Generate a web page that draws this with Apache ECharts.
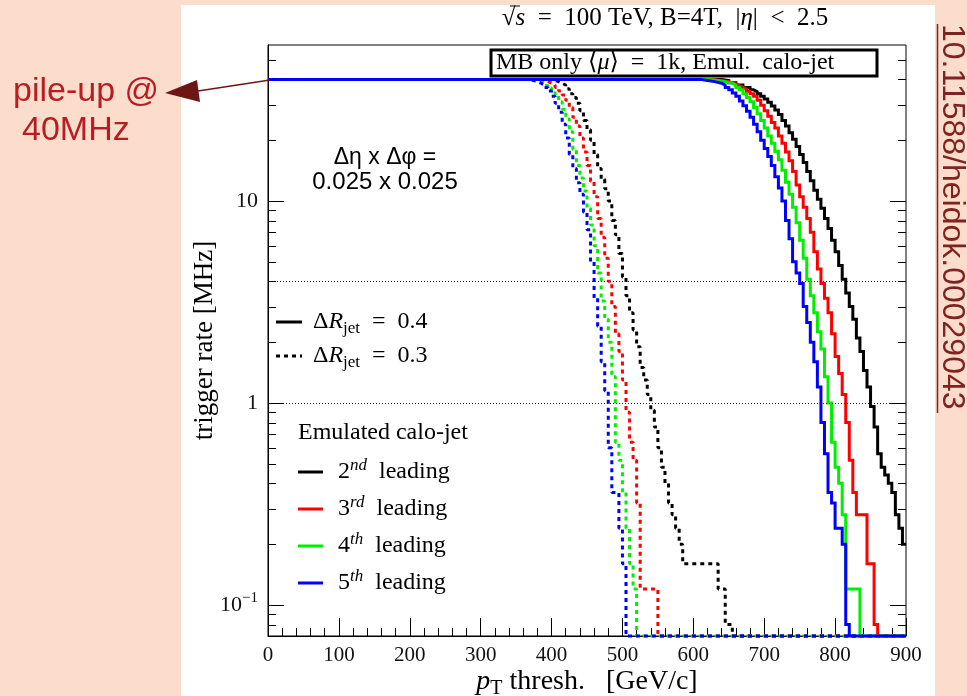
<!DOCTYPE html>
<html><head><meta charset="utf-8">
<script src="https://cdn.jsdelivr.net/npm/echarts@6/dist/echarts.min.js"></script>
<style>html,body{margin:0;padding:0;background:#FCDDCB}#c{width:967px;height:696px}</style>
</head><body><div id="c"></div>
<script>
// ---- data: step histograms [pT lower bin edge (GeV/c), trigger rate (MHz)]; 0 = no events left ----
const pT_range = [0, 900];
const pT_ticks = [0, 100, 200, 300, 400, 500, 600, 700, 800, 900];
const yTickLabels = [0.1, 1, 10];
const refLines = [4, 1];

// Delta R_jet = 0.4 (solid)
const solid_2nd = [[0,40],[640,39.5],[650,38.5],[660,37.5],[670,36.5],[680,35.5],[685,34.8],[690,34],[695,33],[700,32],[705,30.8],[710,29.5],[715,28.2],[720,26.8],[725,25],[730,23.5],[735,21.8],[740,20.2],[745,18.6],[750,17],[755,15.5],[760,14],[765,12.6],[770,11.3],[775,10.2],[780,9.2],[785,8.2],[790,7.3],[795,6.4],[800,5.6],[805,4.8],[810,4.1],[815,3.5],[820,3.0],[825,2.6],[830,2.1],[835,1.8],[840,1.45],[845,1.2],[850,0.96],[855,0.76],[860,0.56],[865,0.48],[870,0.44],[875,0.40],[880,0.36],[885,0.28],[890,0.24],[895,0.20]];
const solid_3rd = [[0,40],[625,39.5],[640,39],[650,38.5],[655,38],[660,37.3],[665,36.5],[670,35.7],[675,34.8],[680,34],[685,33],[690,31.5],[695,29.8],[700,28],[705,26.3],[710,24.5],[715,23],[720,21],[725,19.3],[730,17.5],[735,15.8],[740,14],[745,12],[750,10.5],[755,9.3],[760,8.2],[765,7.0],[770,5.6],[775,4.6],[780,3.9],[785,3.3],[790,2.8],[795,2.2],[800,1.7],[805,1.4],[810,1.1],[815,0.8],[820,0.52],[825,0.36],[830,0.28],[845,0.16],[855,0.08],[860,0]];
const solid_4th = [[0,40],[620,39.5],[635,39],[645,38.3],[655,37.5],[660,36.5],[665,35.5],[670,34],[675,32.5],[680,31],[685,29],[690,27],[695,25],[700,23],[705,21],[710,19.3],[715,17.6],[720,16],[725,14.2],[730,12.4],[735,10.8],[740,9.3],[745,7.8],[750,6.4],[755,5.2],[760,4.1],[765,3.4],[770,2.8],[775,2.25],[780,1.85],[785,1.35],[790,1.0],[795,0.64],[800,0.48],[805,0.4],[810,0.28],[815,0.12],[835,0]];
const solid_5th = [[0,40],[610,39.5],[620,39],[630,38.3],[640,37.5],[645,36.5],[650,35.5],[655,34.3],[660,33],[665,31.3],[670,29.6],[675,27.8],[680,26],[685,24],[690,22],[695,20],[700,18.2],[705,16.6],[710,15],[715,13.2],[720,11.6],[725,10],[730,8],[735,6.5],[740,5],[745,4.4],[750,3.9],[755,3.0],[760,2.5],[765,2.0],[770,1.6],[775,1.2],[780,0.8],[785,0.56],[790,0.36],[795,0.32],[800,0.24],[810,0.2],[815,0.08],[820,0]];

// Delta R_jet = 0.3 (dotted)
const dotted_2nd = [[0,40],[395,39.5],[405,39],[410,38.3],[415,37.5],[420,36],[425,34],[430,32.5],[435,30.5],[440,28],[445,25],[450,22.5],[455,20],[460,17],[465,14.5],[470,12.8],[475,11.5],[480,10],[485,8],[490,6.8],[495,5.5],[500,4.2],[505,3.4],[510,2.8],[515,2.3],[520,1.9],[525,1.5],[530,1.3],[535,1.1],[540,0.92],[545,0.76],[550,0.6],[555,0.48],[560,0.4],[565,0.32],[570,0.28],[575,0.24],[580,0.2],[585,0.16],[635,0.12],[645,0.08],[655,0]];
const dotted_3rd = [[0,40],[380,39.5],[390,39],[395,38.3],[400,37.5],[405,36.5],[410,35],[415,33.5],[420,31.5],[425,29],[430,26],[435,23.5],[440,20.5],[445,17.5],[450,15],[455,12.5],[460,10.5],[465,8.2],[470,6.6],[475,5.2],[480,4.0],[485,3.0],[490,2.2],[495,1.8],[500,1.3],[505,0.9],[510,0.64],[515,0.52],[520,0.32],[525,0.12],[550,0]];
const dotted_4th = [[0,40],[370,39.5],[380,39],[385,38.3],[390,37.3],[395,36.3],[400,35],[405,33.5],[410,31],[415,28.5],[420,25.5],[425,22],[430,18],[435,15],[440,13],[445,11.2],[450,9.2],[455,7.6],[460,6],[465,4.4],[470,3.2],[475,2.6],[480,2],[485,1.35],[490,0.64],[495,0.52],[500,0.36],[505,0.24],[510,0.16],[515,0.12],[520,0]];
const dotted_5th = [[0,40],[365,39.5],[375,39],[380,38.3],[385,37.5],[390,36.5],[395,35],[400,33],[405,30.5],[410,27.5],[415,24],[420,20.5],[425,17],[430,14.5],[435,12.3],[440,10.8],[445,8.8],[450,7.2],[455,5],[460,3.3],[465,2.4],[470,1.6],[475,1.15],[480,0.6],[485,0.36],[495,0.24],[500,0.16],[505,0]];

// log-axis tick positions (minor / major)
const yMinorTicks = [0.08,0.09,0.2,0.3,0.4,0.5,0.6,0.7,0.8,0.9,2,3,4,5,6,7,8,9,20,30,40,50];
const yMajorTicks = [0.1, 1, 10];

const Y_MIN = 0.0702, Y_MAX = 59.2;
const SERIF = "'Liberation Serif','DejaVu Serif',serif";
const SANS = "'Liberation Sans',Arial,sans-serif";
const colors = ['#000000', '#ff0000', '#00ee00', '#0000ff'];

function steps(pts){
  const out = pts.map(p => [p[0], p[1] === 0 ? Y_MIN : p[1]]);
  out.push([pT_range[1], out[out.length-1][1]]);
  return out;
}

const chart = echarts.init(document.getElementById('c'), null, {renderer:'canvas'});

const dottedSets = [dotted_2nd, dotted_3rd, dotted_4th, dotted_5th];
const solidSets = [solid_2nd, solid_3rd, solid_4th, solid_5th];
const series = [];
dottedSets.forEach((d, i) => series.push({
  type:'line', step:'end', data: steps(d), showSymbol:false, clip:false, animation:false,
  lineStyle:{color:colors[i], width:3, type:[4,4], cap:'butt'}
}));
solidSets.forEach((d, i) => series.push({
  type:'line', step:'end', data: steps(d), showSymbol:false, clip:false, animation:false,
  lineStyle:{color:colors[i], width:3, cap:'butt', join:'miter'}
}));
series[0].markLine = {
  silent:true, symbol:['none','none'], animation:false, label:{show:false},
  lineStyle:{color:'#222', width:1, type:[1,2]},
  data: refLines.map(v => ({yAxis:v}))
};
const tickData = yMinorTicks.map(v => [0, v, 0]).concat(yMajorTicks.map(v => [0, v, 1]));
series.push({
  type:'custom', data: tickData, encode:{x:0, y:1}, clip:false, silent:true, animation:false, z:10,
  renderItem: function(params, api){
    const v = api.value(1), major = api.value(2);
    const L = api.coord([pT_range[0], v]), R = api.coord([pT_range[1], v]);
    const len = major ? 16 : 8;
    const y = Math.round(L[1]) + 0.5;
    return {type:'group', children:[
      {type:'line', shape:{x1:L[0], y1:y, x2:L[0]+len, y2:y}, style:{stroke:'#000', lineWidth:1}},
      {type:'line', shape:{x1:R[0]-len, y1:y, x2:R[0], y2:y}, style:{stroke:'#000', lineWidth:1}}
    ]};
  }
});

function mkRich(fs){
  return {
    n:{fontFamily:SERIF, fontSize:fs, lineHeight:fs+6, color:'#000'},
    i:{fontFamily:SERIF, fontSize:fs, lineHeight:fs+6, fontStyle:'italic', color:'#000'},
    sup:{fontFamily:SERIF, fontSize:Math.round(fs*0.72), lineHeight:Math.round(fs*0.7), fontStyle:'italic', verticalAlign:'top', color:'#000'},
    sub:{fontFamily:SERIF, fontSize:Math.round(fs*0.7), lineHeight:Math.round(fs*0.6), verticalAlign:'bottom', color:'#000'}
  };
}
const rich24 = mkRich(24), rich25 = mkRich(25), rich28 = mkRich(28);

function legendLine(x1, x2, y, color, dashed){
  return {type:'line', shape:{x1:x1, y1:y, x2:x2, y2:y}, z:20,
    style:{stroke:color, lineWidth:3, lineDash: dashed ? [4,4] : null}};
}
function richText(x, y, text, align, rich){
  return {type:'text', x:x, y:y, z:20, style:{text:text, rich:rich||rich24, textAlign:align||'left', textVerticalAlign:'middle'}};
}

const ranks = [['2','nd'],['3','rd'],['4','th'],['5','th']];
const legendY = [472, 509, 546, 583];

const graphics = [
  {type:'rect', shape:{x:181, y:5, width:754, height:691}, style:{fill:'#ffffff'}, z:-10},
  // title
  richText(665, 18, '{n|√}{i|s}{n|  =  100 TeV, B=4T,  |}{i|η}{n||  <  2.5}', 'center', rich25),
  {type:'line', shape:{x1:510, y1:6, x2:520, y2:6}, style:{stroke:'#000', lineWidth:1}, z:20},
  // box
  {type:'rect', shape:{x:491, y:50, width:386, height:26}, style:{fill:'#fff', stroke:'#000', lineWidth:3}, z:20},
  richText(496, 63, '{n|MB only ⟨}{i|μ}{n|⟩  =  1k, Emul.  calo-jet}', 'left', rich24),
  // delta eta x delta phi
  {type:'text', x:385, y:158, z:20, style:{text:'Δη x Δφ =', font:'23px '+SANS, fill:'#000', textAlign:'center', textVerticalAlign:'middle'}},
  {type:'text', x:385, y:182, z:20, style:{text:'0.025 x 0.025', font:'24px '+SANS, fill:'#000', textAlign:'center', textVerticalAlign:'middle'}},
  // legend: line style
  legendLine(276, 302, 322, '#000', false),
  richText(313, 322, '{n|Δ}{i|R}{sub|jet}{n|  =  0.4}'),
  legendLine(276, 302, 356, '#000', true),
  richText(313, 356, '{n|Δ}{i|R}{sub|jet}{n|  =  0.3}'),
  richText(298, 433, '{n|Emulated calo-jet}'),
  // pile-up annotation
  {type:'text', x:13, y:92, style:{text:'pile-up @', font:'34px '+SANS, fill:'#B51E22', textAlign:'left', textVerticalAlign:'middle'}},
  {type:'text', x:22, y:131, style:{text:'40MHz', font:'34px '+SANS, fill:'#B51E22', textAlign:'left', textVerticalAlign:'middle'}},
  {type:'line', shape:{x1:270, y1:80, x2:198, y2:91}, style:{stroke:'#6E1616', lineWidth:1.5}, z:30},
  {type:'polygon', shape:{points:[[165,93],[197,80],[200,102]]}, style:{fill:'#6E1616'}, z:30},
  // DOI
  {type:'text', x:952, y:24, rotation:-Math.PI/2, style:{text:'10.11588/heidok.00029043', font:'32px '+SANS, fill:'#7E2222', textAlign:'left', textVerticalAlign:'middle'}},
  {type:'line', shape:{x1:937.5, y1:24, x2:937.5, y2:413}, style:{stroke:'#7E2222', lineWidth:1.5}}
];
ranks.forEach((r, i) => {
  graphics.push(legendLine(298, 323, legendY[i], colors[i], false));
  graphics.push(richText(338, legendY[i], '{n|' + r[0] + '}{sup|' + r[1] + '}{n|  leading}'));
});

function isPow10(v){ const l = Math.log10(v); return Math.abs(l - Math.round(l)) < 1e-6; }

const option = {
  backgroundColor:'#FCDDCB',
  animation:false,
  grid:{left:268, right:61, top:45, bottom:60, show:true, backgroundColor:'#fff', borderColor:'#000', borderWidth:1, containLabel:false, outerBoundsMode:'none'},
  xAxis:{
    type:'value', min:pT_range[0], max:pT_range[1], interval:100,
    axisLine:{show:true, onZero:false, lineStyle:{color:'#000', width:1}},
    axisTick:{show:true, inside:true, length:18, lineStyle:{color:'#000', width:1}},
    minorTick:{show:true, splitNumber:5, length:8, lineStyle:{color:'#000', width:1}},
    splitLine:{show:false}, minorSplitLine:{show:false},
    axisLabel:{color:'#111', fontFamily:SERIF, fontSize:21, margin:9,
      formatter: v => pT_ticks.indexOf(v) >= 0 ? String(v) : ''},
    name:'{i|p}{sub|T}{n| thresh.   [GeV/c]}', nameLocation:'middle', nameGap:29, nameMoveOverlap:false,
    nameTextStyle:{rich:rich28}
  },
  yAxis:{
    type:'log', logBase:10, min:Y_MIN, max:Y_MAX,
    axisLine:{show:true, onZero:false, lineStyle:{color:'#000', width:1}},
    axisTick:{show:false}, minorTick:{show:false}, splitLine:{show:false},
    axisLabel:{margin:10, showMinLabel:false, showMaxLabel:false,
      formatter: function(v){
        if (!isPow10(v)) return '';
        const e = Math.round(Math.log10(v));
        if (e < 0) return '{b|10}{s|−' + (-e) + '}';
        return '{b|' + String(Math.round(v)) + '}';
      },
      rich:{
        b:{fontFamily:SERIF, fontSize:22, lineHeight:28, color:'#111'},
        s:{fontFamily:SERIF, fontSize:15, lineHeight:16, verticalAlign:'top', color:'#111'}
      }
    },
    name:'trigger rate [MHz]', nameLocation:'middle', nameGap:50, nameRotate:90, nameMoveOverlap:false,
    nameTextStyle:{fontFamily:SERIF, fontSize:27, color:'#000'}
  },
  graphic:{elements:graphics},
  series:series
};
chart.setOption(option);
</script>
</body></html>
